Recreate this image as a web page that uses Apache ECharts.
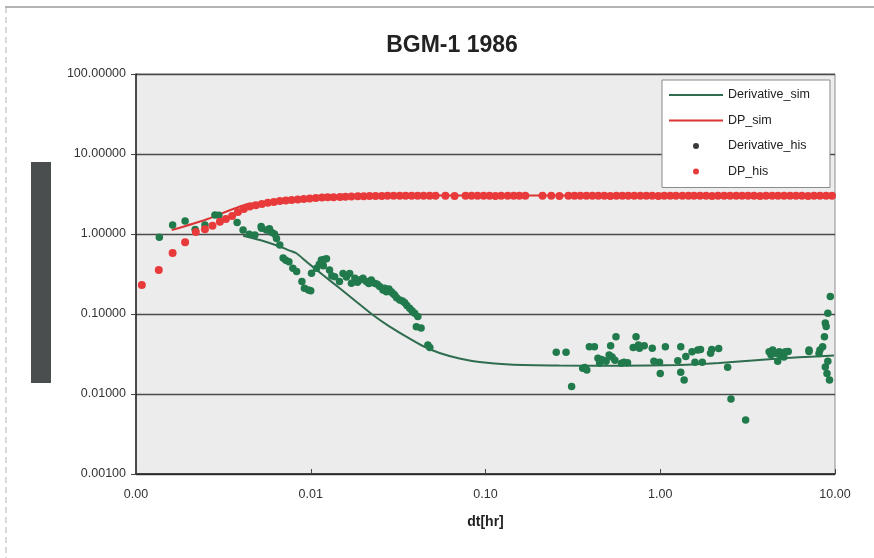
<!DOCTYPE html>
<html><head><meta charset="utf-8">
<script src="https://cdn.jsdelivr.net/npm/echarts@6/dist/echarts.min.js"></script>
<style>html,body{margin:0;padding:0;background:#fff}#c{width:874px;height:558px}</style>
</head><body><div id="c"></div>
<script>
const titleText = 'BGM-1 1986';
const xName = 'dt[hr]';
const seriesNames = ['Derivative_sim', 'DP_sim', 'Derivative_his', 'DP_his'];

// Derivative_sim (simulated derivative curve)
const derivSimX = [0.0041, 0.00512, 0.00665, 0.00759, 0.00828, 0.00945, 0.01175, 0.01465, 0.01824, 0.0227, 0.0283, 0.0352, 0.0438, 0.0546, 0.071, 0.0925, 0.137, 0.265, 0.583, 1.28, 2.17, 3.68, 6.22, 9.86];
const derivSimY = [0.95, 0.84, 0.695, 0.619, 0.574, 0.451, 0.307, 0.21, 0.1426, 0.0972, 0.0695, 0.0521, 0.0398, 0.0326, 0.0278, 0.0251, 0.0234, 0.0227, 0.0225, 0.023, 0.0244, 0.0266, 0.0288, 0.0303];

// DP_sim (simulated pressure change curve)
const dpSimX = [0.0016, 0.0025, 0.0043, 0.0063, 0.01, 0.0143, 0.02, 0.05, 0.2, 1, 10];
const dpSimY = [1.12, 1.51, 2.35, 2.55, 2.78, 2.93, 2.98, 3.02, 3.02, 3.02, 3.02];

// Derivative_his (measured derivative points)
const derivHisX = [0.00136, 0.00162, 0.00191, 0.00218, 0.00248, 0.00283, 0.00298, 0.00379, 0.0041, 0.00445, 0.00479, 0.0052, 0.00523, 0.00558, 0.0058, 0.00596, 0.0062, 0.00637, 0.00665, 0.00695, 0.0072, 0.0075, 0.0079, 0.0083, 0.0089, 0.0092, 0.0097, 0.0100, 0.0101, 0.0108, 0.0112, 0.0115, 0.0118, 0.0119, 0.0123, 0.0128, 0.0132, 0.0137, 0.0146, 0.0153, 0.0160, 0.0167, 0.0171, 0.0179, 0.0185, 0.0191, 0.0199, 0.0208, 0.0215, 0.0222, 0.0232, 0.0240, 0.0248, 0.0259, 0.0265, 0.0271, 0.028, 0.0289, 0.0295, 0.0302, 0.031, 0.0323, 0.0335, 0.0345, 0.0355, 0.0368, 0.038, 0.0393, 0.0402, 0.0410, 0.0428, 0.0468, 0.048,
  0.254, 0.289, 0.311, 0.36, 0.37, 0.38, 0.393, 0.42, 0.44, 0.45, 0.46, 0.47, 0.49, 0.51, 0.52, 0.53, 0.55, 0.558, 0.60, 0.62, 0.65, 0.70, 0.727, 0.75, 0.76, 0.81, 0.90, 0.92, 0.99, 1.00, 1.07, 1.26, 1.31, 1.31, 1.37, 1.40, 1.52, 1.58, 1.64, 1.70, 1.74, 1.94, 1.97, 2.16, 2.43, 2.54, 3.08, 4.2, 4.3, 4.4, 4.6, 4.7, 4.8, 4.9, 5.0, 5.1, 5.2, 5.4, 7.1, 7.1, 8.1, 8.2, 8.5, 8.7, 8.8, 8.9, 9.1, 9.4, 8.8, 9.0, 9.3, 9.1];
const derivHisY = [0.91, 1.30, 1.45, 1.14, 1.30, 1.73, 1.72, 1.39, 1.12, 0.99, 0.97, 1.24, 1.18, 1.12, 1.16, 1.05, 1.00, 0.88, 0.73, 0.50, 0.47, 0.45, 0.373, 0.34, 0.254, 0.21, 0.20, 0.195, 0.323, 0.373, 0.42, 0.473, 0.40, 0.48, 0.49, 0.355, 0.30, 0.293, 0.254, 0.32, 0.29, 0.32, 0.242, 0.28, 0.25, 0.266, 0.28, 0.254, 0.24, 0.266, 0.242, 0.235, 0.22, 0.20, 0.21, 0.19, 0.205, 0.19, 0.18, 0.173, 0.16, 0.150, 0.145, 0.138, 0.128, 0.118, 0.11, 0.102, 0.0695, 0.093, 0.067, 0.041, 0.038,
  0.0332, 0.0332, 0.0124, 0.0210, 0.0215, 0.0200, 0.039, 0.039, 0.028, 0.0242, 0.027, 0.0265, 0.0256, 0.0307, 0.040, 0.0290, 0.0265, 0.052, 0.0242, 0.0250, 0.0245, 0.0380, 0.052, 0.041, 0.0373, 0.040, 0.0373, 0.0256, 0.0250, 0.0181, 0.039, 0.026, 0.039, 0.0187, 0.015, 0.0295, 0.0338, 0.0250, 0.0355, 0.036, 0.025, 0.0323, 0.036, 0.037, 0.0216, 0.00866, 0.00473, 0.0338, 0.031, 0.0355, 0.0323, 0.0256, 0.0338, 0.030, 0.0323, 0.0290, 0.0338, 0.034, 0.034, 0.0355, 0.032, 0.0355, 0.039, 0.052, 0.077, 0.07, 0.102, 0.165, 0.0218, 0.018, 0.015, 0.0256];

// DP_his (measured pressure change points)
const dpHisX = [0.00108, 0.00135, 0.00162, 0.00191, 0.0022, 0.00248, 0.00274, 0.00302, 0.00327, 0.00355, 0.00383, 0.00414, 0.00448, 0.00485, 0.00525, 0.00568, 0.00615, 0.00665, 0.0072, 0.00778, 0.00843, 0.00912, 0.00987, 0.0107, 0.0116, 0.0125, 0.0135, 0.0147, 0.0158, 0.0171, 0.0186, 0.0201, 0.0217, 0.0235, 0.0255, 0.0275, 0.0298, 0.0323, 0.0349, 0.0378, 0.0409, 0.0442, 0.0479, 0.0518, 0.059, 0.0665, 0.0769, 0.0832, 0.090, 0.0975, 0.1054, 0.114, 0.123, 0.134, 0.145, 0.156, 0.169, 0.212, 0.238, 0.265, 0.298, 0.323, 0.349, 0.378, 0.409, 0.442, 0.479, 0.518, 0.561, 0.607, 0.656, 0.710, 0.769, 0.832, 0.90, 0.975, 1.054, 1.14, 1.23, 1.34, 1.45, 1.56, 1.69, 1.83, 1.98, 2.14, 2.32, 2.51, 2.72, 2.94, 3.18, 3.44, 3.73, 4.03, 4.37, 4.72, 5.11, 5.53, 5.98, 6.47, 7.01, 7.58, 8.20, 8.89, 9.61];
const dpHisY = [0.23, 0.355, 0.58, 0.79, 1.06, 1.15, 1.27, 1.42, 1.54, 1.68, 1.88, 2.05, 2.20, 2.29, 2.37, 2.45, 2.52, 2.58, 2.63, 2.67, 2.70, 2.74, 2.78, 2.82, 2.85, 2.87, 2.89, 2.91, 2.93, 2.94, 2.96, 2.97, 2.98, 2.99, 2.99, 3.00, 3.00, 3.00, 3.01, 3.00, 3.00, 3.01, 3.00, 3.00, 3.00, 2.99, 3.00, 3.00, 3.01, 3.00, 3.00, 2.99, 3.00, 3.00, 3.00, 3.01, 3.00, 3.00, 3.00, 2.99, 3.00, 3.00, 3.00, 3.01, 3.00, 3.00, 3.00, 2.99, 3.00, 3.00, 3.00, 3.00, 3.01, 3.00, 3.00, 2.99, 3.00, 3.00, 3.00, 3.00, 3.01, 3.00, 3.00, 3.00, 2.99, 3.00, 3.00, 3.00, 3.00, 3.01, 3.00, 3.00, 2.99, 3.00, 3.00, 3.00, 3.00, 3.01, 3.00, 3.00, 2.99, 3.00, 3.00, 3.00, 3.00];

const zip = (xs, ys) => xs.map((x, i) => [x, ys[i]]);

const chart = echarts.init(document.getElementById('c'), null, {renderer: 'canvas'});
const FONT = '"Liberation Sans", Arial, sans-serif';
chart.setOption({
  animation: false,
  backgroundColor: '#ffffff',
  textStyle: {fontFamily: FONT},
  title: {
    text: titleText, left: 447, top: 29, textAlign: 'center',
    textStyle: {fontFamily: FONT, fontSize: 23, fontWeight: 'bold', color: '#222'}
  },
  legend: {
    orient: 'vertical', left: 662, top: 80,
    padding: [8, 20, 9, 6], itemGap: 11.5,
    itemWidth: 54, itemHeight: 6,
    backgroundColor: '#ffffff', borderColor: '#8a8a8a', borderWidth: 1,
    textStyle: {fontFamily: FONT, fontSize: 12.5, color: '#222', lineHeight: 14},
    data: [
      {name: 'Derivative_sim', itemStyle: {opacity: 0}},
      {name: 'DP_sim', itemStyle: {opacity: 0}},
      {name: 'Derivative_his', icon: 'circle', itemStyle: {color: '#3a3a3a'}},
      {name: 'DP_his', icon: 'circle'}
    ]
  },
  grid: {left: 136, right: 39, top: 74, bottom: 84, show: true, backgroundColor: '#ececec', borderColor: '#8f8f8f', borderWidth: 1},
  xAxis: {
    type: 'log', logBase: 10, min: 0.001, max: 10,
    name: xName, nameLocation: 'middle', nameGap: 41,
    nameTextStyle: {fontFamily: FONT, fontSize: 14, fontWeight: 'bold', color: '#222'},
    axisLine: {show: true, lineStyle: {color: '#222', width: 1.5}},
    axisTick: {show: true, inside: true, length: 5, lineStyle: {color: '#444'}},
    axisLabel: {margin: 14, fontFamily: FONT, fontSize: 12.5, color: '#333', formatter: v => Number(v).toFixed(2)},
    splitLine: {show: false}
  },
  yAxis: {
    type: 'log', logBase: 10, min: 0.001, max: 100,
    axisLine: {show: true, lineStyle: {color: '#222', width: 1.5}},
    axisTick: {show: true, length: 5, lineStyle: {color: '#444'}},
    axisLabel: {margin: 10, fontFamily: FONT, fontSize: 12.5, color: '#333', formatter: v => Number(v).toFixed(5)},
    splitLine: {show: true, lineStyle: {color: '#4a4a4a', width: 1.3}}
  },
  graphic: [
    {type: 'rect', shape: {x: 31, y: 162, width: 20, height: 221}, style: {fill: '#4b4e4e'}},
    {type: 'line', shape: {x1: 5, y1: 7, x2: 874, y2: 7}, style: {stroke: '#9a9a9a', lineWidth: 1.5}},
    {type: 'line', shape: {x1: 6, y1: 7, x2: 6, y2: 558}, style: {stroke: '#b5b5b5', lineWidth: 1, lineDash: [6, 4]}}
  ],
  series: [
    {name: 'Derivative_sim', type: 'line', data: zip(derivSimX, derivSimY), symbol: 'none', smooth: 0.2,
      lineStyle: {color: '#2f6d4f', width: 2}, itemStyle: {color: '#2f6d4f'}, z: 2},
    {name: 'DP_sim', type: 'line', data: zip(dpSimX, dpSimY), symbol: 'none', smooth: 0.2,
      lineStyle: {color: '#dc3434', width: 2}, itemStyle: {color: '#dc3434'}, z: 2},
    {name: 'Derivative_his', type: 'scatter', data: zip(derivHisX, derivHisY), symbol: 'circle', symbolSize: 7.5,
      itemStyle: {color: '#217a4c', opacity: 1}, z: 3},
    {name: 'DP_his', type: 'scatter', data: zip(dpHisX, dpHisY), symbol: 'circle', symbolSize: 8,
      itemStyle: {color: '#e83a3a', opacity: 1}, z: 4}
  ]
});
</script></body></html>
